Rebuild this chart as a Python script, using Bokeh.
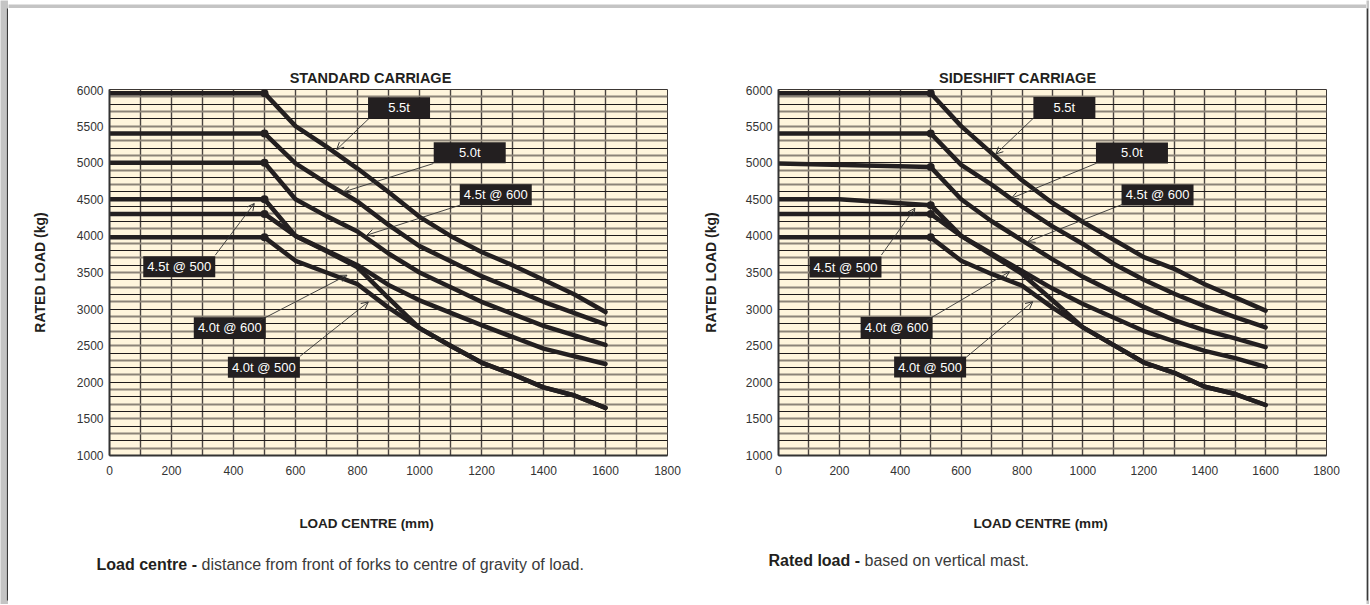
import math
from bokeh.plotting import figure
from bokeh.models import Range1d, FixedTicker, Grid, Arrow, OpenHead, ColumnDataSource
from bokeh.layouts import row, column
from bokeh.embed import file_html
from bokeh.resources import INLINE
from bokeh.core.properties import value

# ---------------- data ----------------
series_names = ["5.5t", "5.0t", "4.5t @ 600", "4.5t @ 500", "4.0t @ 600", "4.0t @ 500"]
x_ticks = [0, 200, 400, 600, 800, 1000, 1200, 1400, 1600, 1800]
y_ticks = [1000, 1500, 2000, 2500, 3000, 3500, 4000, 4500, 5000, 5500, 6000]

# Standard carriage (load centre mm -> rated load kg)
std_55_x = [0, 500, 600, 700, 800, 900, 1000, 1100, 1200, 1300, 1400, 1500, 1600]
std_55_y = [5950, 5950, 5500, 5220, 4920, 4600, 4260, 4000, 3780, 3600, 3400, 3200, 2960]
std_50_x = [0, 500, 600, 700, 800, 900, 1000, 1200, 1400, 1600]
std_50_y = [5400, 5400, 4990, 4720, 4470, 4150, 3860, 3450, 3100, 2790]
std_45_600_x = [0, 500, 600, 700, 800, 900, 1000, 1200, 1400, 1600]
std_45_600_y = [5000, 5000, 4500, 4270, 4060, 3760, 3500, 3100, 2770, 2510]
std_45_500_x = [0, 500, 600, 700, 800, 900, 1000, 1200, 1400, 1600]
std_45_500_y = [4500, 4500, 4000, 3800, 3600, 3330, 3120, 2780, 2460, 2250]
std_40_600_x = [0, 500, 600, 700, 800, 900, 1000, 1100, 1200, 1300, 1400, 1500, 1600]
std_40_600_y = [4300, 4300, 4000, 3790, 3570, 3150, 2740, 2500, 2270, 2110, 1930, 1820, 1650]
std_40_500_x = [0, 500, 600, 700, 800, 900, 1000, 1100, 1200, 1300, 1400, 1500, 1600]
std_40_500_y = [3980, 3980, 3660, 3500, 3340, 3020, 2740, 2500, 2270, 2110, 1930, 1820, 1650]

# Sideshift carriage
ss_55_x = [0, 500, 600, 700, 800, 900, 1000, 1100, 1200, 1300, 1400, 1500, 1600]
ss_55_y = [5950, 5950, 5500, 5130, 4760, 4450, 4190, 3950, 3710, 3550, 3340, 3160, 2980]
ss_50_x = [0, 500, 600, 700, 800, 900, 1000, 1100, 1200, 1300, 1400, 1500, 1600]
ss_50_y = [5400, 5400, 4970, 4700, 4400, 4130, 3890, 3620, 3400, 3210, 3040, 2890, 2750]
ss_45_600_x = [0, 500, 600, 700, 800, 900, 1000, 1200, 1300, 1400, 1500, 1600]
ss_45_600_y = [4990, 4940, 4500, 4200, 3940, 3680, 3440, 3030, 2850, 2710, 2600, 2480]
ss_45_500_x = [0, 200, 500, 600, 700, 800, 900, 1000, 1200, 1300, 1400, 1500, 1600]
ss_45_500_y = [4500, 4500, 4420, 4000, 3760, 3520, 3280, 3070, 2700, 2560, 2430, 2330, 2210]
ss_40_600_x = [0, 500, 600, 700, 800, 900, 1000, 1200, 1300, 1400, 1500, 1600]
ss_40_600_y = [4300, 4300, 4000, 3740, 3480, 3120, 2750, 2270, 2130, 1940, 1840, 1690]
ss_40_500_x = [0, 500, 600, 700, 800, 900, 1000, 1200, 1300, 1400, 1500, 1600]
ss_40_500_y = [3980, 3980, 3660, 3480, 3320, 3020, 2750, 2270, 2130, 1940, 1840, 1690]

# annotation anchors (data units): label centre, arrow tail, arrow tip
std_lab_x = [934, 1162, 1246, 225, 388, 498]
std_lab_y = [5751, 5137, 4563, 3577, 2746, 2206]
std_tail_x = [838, 1045, 1131, 341, 486, 615]
std_tail_y = [5608, 4989, 4420, 3736, 2848, 2357]
std_tip_x = [733, 755, 830, 467, 766, 835]
std_tip_y = [5180, 4601, 4010, 4443, 3463, 3098]

ss_lab_x = [939, 1161, 1245, 220, 388, 498]
ss_lab_y = [5755, 5133, 4559, 3575, 2749, 2209]
ss_tail_x = [838, 1044, 1133, 338, 485, 616]
ss_tail_y = [5611, 4992, 4436, 3739, 2842, 2340]
ss_tip_x = [714, 765, 819, 448, 759, 835]
ss_tip_y = [5119, 4514, 3921, 4377, 3511, 3101]

box_w = [62, 72, 72, 72, 72, 72]

# ---------------- styling ----------------
SANS = "Liberation Sans"
INK = "#231f20"
PAGE_GREY = "#c4c4c4"
EDGE = "#3a3a3a"
TOP_H = 77
MAIN_H = 397
CAP_H = 118
W1, W2 = 677, 681


def strip(width, height, texts=(), bg="white", edge=None):
    s = figure(width=width, height=height, x_range=Range1d(0, width), y_range=Range1d(height, 0),
               output_backend="svg", toolbar_location=None,
               x_axis_location=None, y_axis_location=None,
               min_border_left=0, min_border_right=0, min_border_top=0, min_border_bottom=0)
    s.grid.visible = False
    s.outline_line_color = None
    s.background_fill_color = bg
    s.border_fill_color = bg
    if edge == "right":
        s.segment(x0=[width - 0.8], y0=[8], x1=[width - 0.8], y1=[height - 4], line_color=EDGE, line_width=1.6)
    if edge == "left":
        s.segment(x0=[0.8], y0=[8], x1=[0.8], y1=[height - 4], line_color=EDGE, line_width=1.6)
    if edge == "bottom":
        s.segment(x0=[0], y0=[height - 0.8], x1=[width], y1=[height - 0.8], line_color=EDGE, line_width=1.6)
    if edge == "top":
        s.segment(x0=[0], y0=[0.8], x1=[width], y1=[0.8], line_color="#8a8a8a", line_width=1.2)
    for (tx, ty, txt, style, size, color, align) in texts:
        s.text(x=[tx], y=[ty], text=[txt], text_font=value(SANS), text_font_style=style,
               text_font_size=size, text_color=color, text_align=align, text_baseline="middle")
    return s


def make_chart(curves, lab, tail, tip, left_b, frame_w, width, ylab_standoff):
    p = figure(width=width, height=MAIN_H, x_range=Range1d(0, 1800), y_range=Range1d(1000, 6000),
               output_backend="svg", toolbar_location=None,
               min_border_left=left_b, min_border_right=width - left_b - frame_w,
               min_border_top=4, min_border_bottom=27)
    p.background_fill_color = "#fff5dc"
    p.border_fill_color = "white"
    p.outline_line_color = "#3c3734"
    p.outline_line_width = 1

    p.xaxis.ticker = FixedTicker(ticks=x_ticks)
    p.yaxis.ticker = FixedTicker(ticks=y_ticks)
    for ax in (p.xaxis, p.yaxis):
        ax.major_tick_line_color = None
        ax.minor_tick_line_color = None
        ax.major_tick_out = 0
        ax.major_label_text_font = SANS
        ax.major_label_text_font_size = "12px"
        ax.major_label_text_color = "#333333"
        ax.axis_line_color = "#333333"
        ax.axis_line_width = 2
    p.xaxis.major_label_standoff = 10
    p.yaxis.major_label_standoff = 6
    p.yaxis.axis_label = "RATED LOAD (kg)"
    p.yaxis.axis_label_text_font = SANS
    p.yaxis.axis_label_text_font_style = "bold"
    p.yaxis.axis_label_text_font_size = "14px"
    p.yaxis.axis_label_text_color = INK
    p.yaxis.axis_label_standoff = ylab_standoff

    # grid: vertical every 100 mm, horizontal every 100 kg (alternating tone)
    p.xgrid.ticker = FixedTicker(ticks=list(range(100, 1800, 100)))
    p.xgrid.grid_line_color = "#4a4440"
    p.xgrid.grid_line_width = 1.4
    p.ygrid.ticker = FixedTicker(ticks=list(range(1200, 6000, 200)))
    p.ygrid.grid_line_color = "#1e1a1a"
    p.ygrid.grid_line_width = 1.2
    g2 = Grid(dimension=1, ticker=FixedTicker(ticks=list(range(1100, 6000, 200))),
              grid_line_color="#8c8478", grid_line_width=2)
    p.add_layout(g2)

    for xs, ys in curves:
        p.line(xs, ys, line_width=4.5, line_color=INK, line_join="round", line_cap="round")
        k = xs.index(500)
        p.scatter([xs[k]], [ys[k]], size=8, fill_color=INK, line_color=None)

    src = ColumnDataSource(dict(lx=lab[0], ly=lab[1], tx=tail[0], ty=tail[1],
                                px=tip[0], py=tip[1], w=box_w, name=series_names))
    p.add_layout(Arrow(end=OpenHead(size=7, line_width=1, line_color="#333333"),
                       x_start="tx", y_start="ty", x_end="px", y_end="py", source=src,
                       line_width=0.9, line_color="#333333"))
    p.rect(x="lx", y="ly", width="w", height=21, width_units="screen", height_units="screen",
           fill_color=INK, line_color=None, source=src)
    p.text(x="lx", y="ly", text="name", source=src, text_color="white",
           text_font=value(SANS), text_font_size="13px",
           text_align="center", text_baseline="middle")
    return p


std_curves = [(std_55_x, std_55_y), (std_50_x, std_50_y), (std_45_600_x, std_45_600_y),
              (std_45_500_x, std_45_500_y), (std_40_600_x, std_40_600_y), (std_40_500_x, std_40_500_y)]
ss_curves = [(ss_55_x, ss_55_y), (ss_50_x, ss_50_y), (ss_45_600_x, ss_45_600_y),
             (ss_45_500_x, ss_45_500_y), (ss_40_600_x, ss_40_600_y), (ss_40_500_x, ss_40_500_y)]

p1 = make_chart(std_curves, (std_lab_x, std_lab_y), (std_tail_x, std_tail_y),
                (std_tip_x, std_tip_y), left_b=101, frame_w=558, width=W1, ylab_standoff=26)
p2 = make_chart(ss_curves, (ss_lab_x, ss_lab_y), (ss_tail_x, ss_tail_y),
                (ss_tip_x, ss_tip_y), left_b=93, frame_w=548, width=W2, ylab_standoff=24)

t1 = strip(W1, TOP_H, [(364, 69, "STANDARD  CARRIAGE", "bold", "14.5px", INK, "center")])
t2 = strip(W2, TOP_H, [(332, 69, "SIDESHIFT CARRIAGE", "bold", "14.5px", INK, "center")])

c1 = strip(W1, CAP_H, [
    (358, 41, "LOAD CENTRE (mm)", "bold", "13.5px", INK, "center"),
    (88, 82, "Load centre -", "bold", "16px", INK, "left"),
    (193, 82, "distance from front of forks to centre of gravity of load.", "normal", "16px", "#3a3a3a", "left"),
])
c2 = strip(W2, CAP_H, [
    (355, 41, "LOAD CENTRE (mm)", "bold", "13.5px", INK, "center"),
    (83, 78, "Rated load -", "bold", "16px", INK, "left"),
    (179, 78, "based on vertical mast.", "normal", "16px", "#3a3a3a", "left"),
])

g_top = strip(W1 + W2, 8, bg=PAGE_GREY, edge="bottom")
g_bottom = strip(W1 + W2, 4, bg=PAGE_GREY, edge="top")
H_ALL = 8 + TOP_H + MAIN_H + CAP_H + 4
g_left = strip(8, H_ALL, bg=PAGE_GREY, edge="right")
g_right = strip(3, H_ALL, bg=PAGE_GREY, edge="left")

layout = row(g_left, column(g_top, row(t1, t2), row(p1, p2), row(c1, c2), g_bottom), g_right)
open("out.html", "w").write(file_html(layout, INLINE))
